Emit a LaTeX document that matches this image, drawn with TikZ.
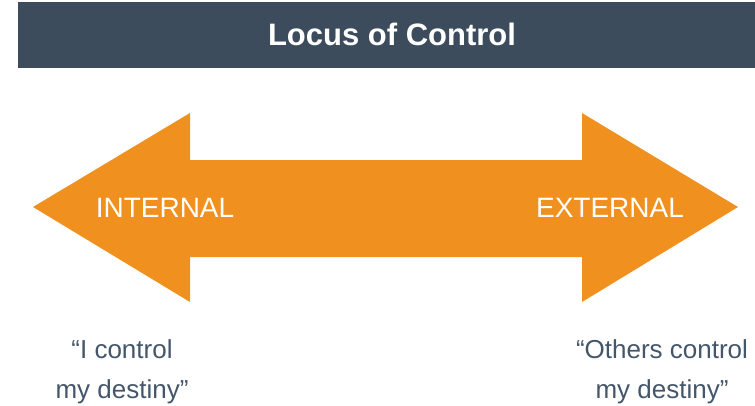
\documentclass[tikz,border=0pt]{standalone}
\usepackage{fontspec}
\setmainfont{Liberation Sans}
\usepackage{tikz}

\definecolor{barblue}{HTML}{3C4C5D}
\definecolor{arroworange}{HTML}{F0901F}
\definecolor{quotegray}{HTML}{44566A}

\begin{document}
\begin{tikzpicture}[x=1pt,y=-1pt,
    arrowlabel/.style={text=white, inner sep=0pt, anchor=base, font=\fontsize{28}{32}\selectfont},
    quotetext/.style={text=quotegray, inner sep=0pt, align=center, font=\fontsize{26}{40}\selectfont}]
    \useasboundingbox (0,0) rectangle (755,405);

    \fill[barblue] (18,2) rectangle (755,68);
    \node[text=white, inner sep=0pt, anchor=base, font=\fontsize{31}{36}\selectfont\bfseries] (title) at (392,45) {Locus of Control};

    \fill[arroworange] (33,207) -- (190,113) -- (190,160) -- (582,160) -- (582,113)
        -- (738,207) -- (582,302) -- (582,257) -- (190,257) -- (190,302) -- cycle;

    \node[arrowlabel] (internal) at (165,217) {INTERNAL};
    \node[arrowlabel] (external) at (610,217) {EXTERNAL};

    \node[quotetext] (inside) at (122,372) {“I control\\my destiny”};
    \node[quotetext] (outside) at (662,372) {“Others control\\my destiny”};
\end{tikzpicture}
\end{document}
